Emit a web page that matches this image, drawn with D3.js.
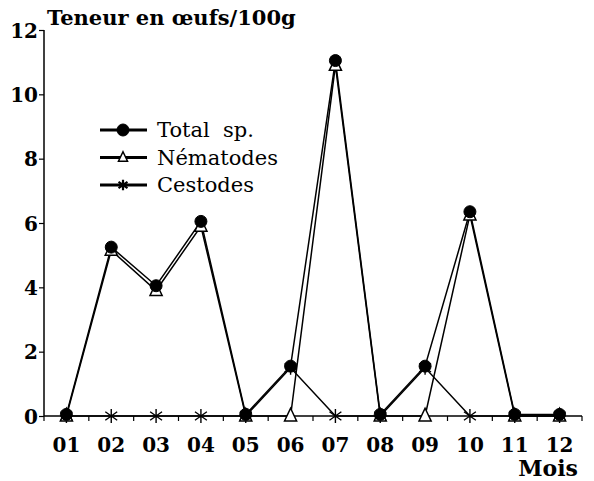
<!DOCTYPE html>
<html>
<head>
<meta charset="utf-8">
<script src="https://cdn.jsdelivr.net/npm/d3@7"></script>
<style>
  body { margin: 0; background: #fff; }
  svg text { font-family: "DejaVu Serif", serif; fill: #000; }
</style>
</head>
<body>
<div id="chart"></div>
<script>
// months and series
const months = ["01", "02", "03", "04", "05", "06", "07", "08", "09", "10", "11", "12"];
const totalSp = [0.05, 5.25, 4.05, 6.05, 0.05, 1.55, 11.05, 0.05, 1.55, 6.35, 0.05, 0.05];
const nematodes = [0, 5.15, 3.9, 5.9, 0, 0, 10.9, 0, 0, 6.25, 0, 0];
const cestodes = [0, 0, 0, 0, 0, 1.5, 0, 0, 1.5, 0, 0, 0];
const yTicks = [0, 2, 4, 6, 8, 10, 12];
const legendLabels = ["Total  sp.", "Nématodes", "Cestodes"];

const W = 594, H = 481;
const margin = { top: 30, right: 12, bottom: 65, left: 44 };
const width = W - margin.left - margin.right;
const height = H - margin.top - margin.bottom;

const svg = d3.select("#chart").append("svg")
  .attr("width", W).attr("height", H);
const g = svg.append("g").attr("transform", `translate(${margin.left},${margin.top})`);

const x = d3.scaleBand().domain(months).range([0, width]);
const y = d3.scaleLinear().domain([0, 12]).range([height, 0]);
const cx = m => x(m) + x.bandwidth() / 2;

// axes
const yAxis = g.append("g")
  .call(d3.axisLeft(y).tickValues(yTicks).tickSize(5).tickPadding(1));
yAxis.attr("font-family", null);
yAxis.select(".domain").attr("d", `M0,${height}V0`).attr("stroke-width", 1.5);
yAxis.selectAll(".tick line").attr("stroke-width", 1.2);
yAxis.selectAll(".tick text")
  .style("font-size", "20px").style("font-weight", "bold")
  .attr("dy", "0.36em");

const xAxis = g.append("g").attr("transform", `translate(0,${height})`)
  .call(d3.axisBottom(x).tickSize(0).tickPadding(22));
xAxis.attr("font-family", null);
xAxis.select(".domain").attr("d", `M0,0H${width}`).attr("stroke-width", 1.5);
xAxis.selectAll(".tick text")
  .style("font-size", "20px").style("font-weight", "bold");
// ticks at band edges
xAxis.selectAll("line.edge")
  .data(d3.range(months.length + 1))
  .enter().append("line")
  .attr("class", "edge")
  .attr("x1", i => i * x.step()).attr("x2", i => i * x.step())
  .attr("y1", 0).attr("y2", 5)
  .attr("stroke", "#000").attr("stroke-width", 1.2);

// labels
svg.append("text")
  .attr("x", 47).attr("y", 25)
  .style("font-size", "21px").style("font-weight", "bold")
  .text("Teneur en œufs/100g");
svg.append("text")
  .attr("x", 578).attr("y", 476).attr("text-anchor", "end")
  .style("font-size", "22px").style("font-weight", "bold")
  .text("Mois");

// markers
const triPath = s => `M0,${-s * 0.7}L${s * 0.55},${s * 0.45}L${-s * 0.55},${s * 0.45}Z`;
const starPath = s => `M0,${-s}V${s}M${-s * 0.85},${-s * 0.6}L${s * 0.85},${s * 0.6}M${-s * 0.85},${s * 0.6}L${s * 0.85},${-s * 0.6}`;

function drawMarker(sel, type, k = 1) {
  if (type === "circle") {
    sel.append("circle").attr("r", 6).attr("fill", "#000").attr("stroke", "#000");
  } else if (type === "tri") {
    sel.append("path").attr("d", triPath(11 * k)).attr("fill", "#fff")
      .attr("stroke", "#000").attr("stroke-width", 1.5);
  } else {
    sel.append("path").attr("d", starPath(7 * k)).attr("fill", "none")
      .attr("stroke", "#000").attr("stroke-width", k < 1 ? 2.2 : 1.4);
  }
}

const line = d3.line().x((d, i) => cx(months[i])).y(d => y(d));
const series = [
  { values: cestodes, type: "star" },
  { values: nematodes, type: "tri" },
  { values: totalSp, type: "circle" }
];

series.forEach(s => {
  g.append("path").datum(s.values)
    .attr("d", line).attr("fill", "none")
    .attr("stroke", "#000").attr("stroke-width", 1.5);
});
series.forEach(s => {
  g.selectAll(null).data(s.values).enter().append("g")
    .attr("transform", (d, i) => `translate(${cx(months[i])},${y(d)})`)
    .each(function () { drawMarker(d3.select(this), s.type); });
});

// legend
const legend = svg.append("g").attr("transform", "translate(100,130)");
["circle", "tri", "star"].forEach((t, i) => {
  const row = legend.append("g").attr("transform", `translate(0,${i * 27.5})`);
  row.append("line").attr("x1", 0).attr("x2", 47).attr("y1", 0).attr("y2", 0)
    .attr("stroke", "#000").attr("stroke-width", 2.8);
  drawMarker(row.append("g").attr("transform", "translate(23,0)"), t, 0.75);
  row.append("text").attr("x", 57).attr("y", 0).attr("dy", "0.35em")
    .style("font-size", "21px").style("white-space", "pre")
    .text(legendLabels[i]);
});
</script>
</body>
</html>
